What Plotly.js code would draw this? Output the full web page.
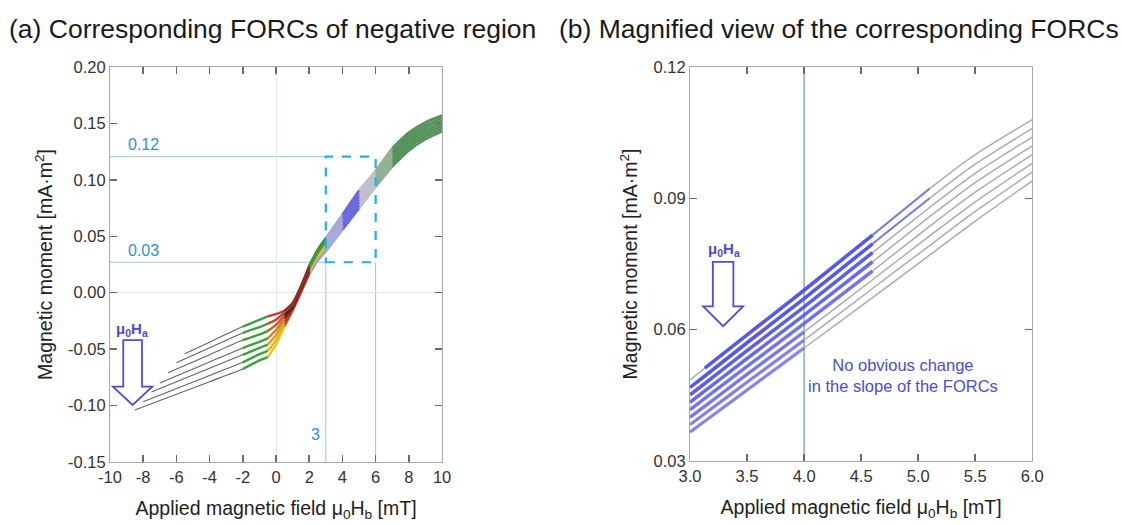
<!DOCTYPE html>
<html>
<head>
<meta charset="utf-8">
<script src="https://cdn.plot.ly/plotly-3.0.1.min.js"></script>
<style>html,body{margin:0;padding:0;background:#fff;}#chart{width:1122px;height:525px;}</style>
</head>
<body>
<div id="chart"></div>
<script>
// ---------- Data: panel (a) ----------
const leftStartX = [-8.5, -8.0, -7.5, -7.0, -6.5, -6.0, -5.5];
const leftGridX = [-4, -2, -1, -0.5, 0, 0.5, 1, 1.5, 2, 2.5, 3, 4, 5, 6, 7, 8, 9, 10];
const forcA1 = [-0.104, -0.0788, -0.0676, -0.060, -0.057, -0.046, -0.030, -0.016, 0.000, 0.016, 0.028, 0.0366, 0.0558, 0.0748, 0.094, 0.112, 0.126, 0.136, 0.143];
const forcA2 = [-0.0966, -0.0733, -0.0617, -0.0545, -0.0515, -0.042, -0.0275, -0.015, 0.001, 0.0173, 0.0297, 0.0386, 0.0580, 0.0774, 0.0963, 0.1147, 0.1287, 0.1385, 0.1453];
const forcA3 = [-0.088, -0.067, -0.055, -0.049, -0.046, -0.0375, -0.025, -0.014, 0.002, 0.0187, 0.0313, 0.0406, 0.0602, 0.080, 0.0987, 0.1173, 0.1313, 0.141, 0.1477];
const forcA4 = [-0.080, -0.0614, -0.049, -0.0435, -0.0405, -0.033, -0.0225, -0.013, 0.003, 0.020, 0.033, 0.0426, 0.0624, 0.0826, 0.101, 0.120, 0.134, 0.1435, 0.150];
const forcA5 = [-0.071, -0.055, -0.042, -0.037, -0.034, -0.0285, -0.020, -0.012, 0.004, 0.0213, 0.0347, 0.0446, 0.0646, 0.0852, 0.1033, 0.1227, 0.1367, 0.146, 0.1523];
const forcA6 = [-0.062, -0.0488, -0.0356, -0.0305, -0.0275, -0.024, -0.0175, -0.0105, 0.005, 0.0227, 0.0363, 0.0466, 0.0668, 0.0878, 0.1057, 0.1253, 0.1393, 0.1485, 0.1547];
const forcA7 = [-0.054, -0.0438, -0.030, -0.024, -0.021, -0.019, -0.016, -0.009, 0.006, 0.024, 0.038, 0.0485, 0.069, 0.0905, 0.108, 0.128, 0.142, 0.151, 0.157];
const leftCurves = [forcA1, forcA2, forcA3, forcA4, forcA5, forcA6, forcA7];

const leftXTicks = [-10, -8, -6, -4, -2, 0, 2, 4, 6, 8, 10];
const leftXTickText = ['-10', '-8', '-6', '-4', '-2', '0', '2', '4', '6', '8', '10'];
const leftYTicks = [-0.15, -0.10, -0.05, 0.00, 0.05, 0.10, 0.15, 0.20];
const leftYTickText = ['-0.15', '-0.10', '-0.05', '0.00', '0.05', '0.10', '0.15', '0.20'];

// ---------- Data: panel (b) ----------
const rightX = [3.0, 3.13, 3.5, 4.0, 4.6, 5.1, 5.5, 6.0];
const forcB1 = [0.0485, 0.0512, 0.0588, 0.0690, 0.0816, 0.0922, 0.1000, 0.1080];
const forcB2 = [0.0468, 0.0494, 0.0570, 0.0671, 0.0796, 0.0900, 0.0978, 0.1060];
const forcB3 = [0.0451, 0.0477, 0.0552, 0.0652, 0.0776, 0.0879, 0.0957, 0.1040];
const forcB4 = [0.0434, 0.0460, 0.0534, 0.0633, 0.0755, 0.0858, 0.0936, 0.1020];
const forcB5 = [0.0417, 0.0443, 0.0516, 0.0614, 0.0734, 0.0836, 0.0914, 0.1000];
const forcB6 = [0.0400, 0.0425, 0.0498, 0.0595, 0.0714, 0.0814, 0.0892, 0.0980];
const forcB7 = [0.0383, 0.0408, 0.0480, 0.0576, 0.0694, 0.0792, 0.0870, 0.0960];
const forcB8 = [0.0366, 0.0391, 0.0462, 0.0558, 0.0673, 0.0770, 0.0848, 0.0940];
const rightCurves = [forcB1, forcB2, forcB3, forcB4, forcB5, forcB6, forcB7, forcB8];

const rightXTicks = [3.0, 3.5, 4.0, 4.5, 5.0, 5.5, 6.0];
const rightXTickText = ['3.0', '3.5', '4.0', '4.5', '5.0', '5.5', '6.0'];
const rightYTicks = [0.03, 0.06, 0.09, 0.12];
const rightYTickText = ['0.03', '0.06', '0.09', '0.12'];

// ---------- Styling ----------
const FONT = 'Liberation Sans, Arial, Helvetica, sans-serif';
const kneeColors = ['#e8c818', '#e3b61e', '#dca022', '#d8802a', '#d05a2c', '#cc4030', '#c83a2e'];
const steepColors = ['#d44a2a', '#c83a28', '#b83024', '#5a2a22', '#3a2420', '#c03428', '#8a2a22'];
const upperColors = ['#a6a6d8', '#9a9ad2', '#c8c040', '#d6c42c', '#6aa040', '#4a9a3e', '#3e923a'];

const traces = [];
leftCurves.forEach((yy, k) => {
  const xx = [leftStartX[k]].concat(leftGridX);
  traces.push({x: xx, y: yy, xaxis: 'x', yaxis: 'y', mode: 'lines', showlegend: false, hoverinfo: 'skip',
    line: {color: '#5a6a5a', width: 1.1, shape: 'spline', smoothing: 0.6}});
});
const segs = [
  {i0: 2, i1: 4, c: k => '#3f9f3f', w: 2.4},
  {i0: 4, i1: 6, c: k => kneeColors[k], w: 2.4},
  {i0: 6, i1: 9, c: k => steepColors[k], w: 2.2},
  {i0: 9, i1: 11, c: k => upperColors[k], w: 2.4},
  {i0: 11, i1: 12, c: k => '#a8a8dc', w: 2.6},
  {i0: 12, i1: 13, c: k => '#6c6ce0', w: 2.6},
  {i0: 13, i1: 14, c: k => '#c0c0ca', w: 2.6},
  {i0: 14, i1: 15, c: k => '#94b094', w: 2.6},
  {i0: 15, i1: 18, c: k => '#55925a', w: 2.6}
];
leftCurves.forEach((yy, k) => {
  const xx = [leftStartX[k]].concat(leftGridX);
  segs.forEach(s => {
    traces.push({x: xx.slice(s.i0, s.i1 + 1), y: yy.slice(s.i0, s.i1 + 1), xaxis: 'x', yaxis: 'y', mode: 'lines',
      showlegend: false, hoverinfo: 'skip', line: {color: s.c(k), width: s.w, shape: 'spline', smoothing: 0.6}});
  });
});

// panel (b)
const blueRanges = [[1, 4, 1.0], [0, 4, 1.0], [0, 4, 0.95], [0, 4, 0.85], [0, 4, 0.75], [0, 3, 0.7], [0, 3, 0.6], [0, 3, 0.55]];
rightCurves.forEach((yy, k) => {
  traces.push({x: rightX, y: yy, xaxis: 'x2', yaxis: 'y2', mode: 'lines', showlegend: false, hoverinfo: 'skip',
    line: {color: '#ababb4', width: 1.5, shape: 'spline', smoothing: 0.5}});
});
rightCurves.forEach((yy, k) => {
  const r = blueRanges[k];
  traces.push({x: rightX.slice(r[0], r[1] + 1), y: yy.slice(r[0], r[1] + 1), xaxis: 'x2', yaxis: 'y2', mode: 'lines',
    showlegend: false, hoverinfo: 'skip', opacity: r[2], line: {color: '#5858e4', width: 3.6, shape: 'spline', smoothing: 0.5}});
  if (k < 2) {
    traces.push({x: rightX.slice(4, 6), y: yy.slice(4, 6), xaxis: 'x2', yaxis: 'y2', mode: 'lines',
      showlegend: false, hoverinfo: 'skip', line: {color: '#7a7ae6', width: 2}});
  }
});

const axisCommon = {
  showline: true, linecolor: '#a8a8a8', linewidth: 1, mirror: 'ticks', ticks: 'inside', ticklen: 7,
  tickcolor: '#6a6a6a', tickwidth: 1.5, showgrid: false, tickfont: {family: FONT, size: 16.5, color: '#333'}
};
const titleFont = {family: FONT, size: 19.5, color: '#222'};

const layout = {
  width: 1122, height: 525, margin: {l: 0, r: 0, t: 0, b: 0},
  paper_bgcolor: '#fff', plot_bgcolor: '#fff', showlegend: false,
  font: {family: FONT},
  xaxis: Object.assign({}, axisCommon, {
    domain: [0.098, 0.394], range: [-10, 10], tickvals: leftXTicks, ticktext: leftXTickText,
    zeroline: true, zerolinecolor: '#dfe7f0', zerolinewidth: 1, anchor: 'y',
    title: {text: 'Applied magnetic field μ<sub>0</sub>H<sub>b</sub> [mT]', font: titleFont, standoff: 16}
  }),
  yaxis: Object.assign({}, axisCommon, {
    domain: [0.12, 0.8724], range: [-0.15, 0.20], tickvals: leftYTicks, ticktext: leftYTickText,
    zeroline: true, zerolinecolor: '#dfe7f0', zerolinewidth: 1, anchor: 'x',
    title: {text: 'Magnetic moment [mA·m<sup>2</sup>]', font: titleFont, standoff: 10}
  }),
  xaxis2: Object.assign({}, axisCommon, {
    domain: [0.615, 0.920], range: [3, 6], tickvals: rightXTicks, ticktext: rightXTickText,
    zeroline: false, anchor: 'y2',
    title: {text: 'Applied magnetic field μ<sub>0</sub>H<sub>b</sub> [mT]', font: titleFont, standoff: 16}
  }),
  yaxis2: Object.assign({}, axisCommon, {
    domain: [0.122, 0.8724], range: [0.03, 0.12], tickvals: rightYTicks, ticktext: rightYTickText,
    zeroline: false, anchor: 'x2',
    title: {text: 'Magnetic moment [mA·m<sup>2</sup>]', font: titleFont, standoff: 10}
  }),
  shapes: [
    {type: 'line', xref: 'x', yref: 'y', x0: -10, x1: 3, y0: 0.1205, y1: 0.1205, line: {color: '#9cc3e6', width: 1}, layer: 'below'},
    {type: 'line', xref: 'x', yref: 'y', x0: -10, x1: 3, y0: 0.027, y1: 0.027, line: {color: '#9cc3e6', width: 1}, layer: 'below'},
    {type: 'line', xref: 'x', yref: 'y', x0: 3, x1: 3, y0: -0.15, y1: 0.027, line: {color: '#9cc3e6', width: 1}, layer: 'below'},
    {type: 'line', xref: 'x', yref: 'y', x0: 6, x1: 6, y0: -0.15, y1: 0.027, line: {color: '#9cc3e6', width: 1}, layer: 'below'},
    {type: 'rect', xref: 'x', yref: 'y', x0: 3, x1: 6, y0: 0.027, y1: 0.1205, line: {color: '#1eb0ef', width: 2.2, dash: 'dash'}},
    {type: 'path', xref: 'x', yref: 'y',
      path: 'M -9.2,-0.042 L -8.07,-0.042 L -8.07,-0.0833 L -7.45,-0.0833 L -8.635,-0.0995 L -9.82,-0.0833 L -9.2,-0.0833 Z',
      line: {color: '#4b4be0', width: 1.8}, fillcolor: 'rgba(255,255,255,0)'},
    {type: 'line', xref: 'x2', yref: 'y2', x0: 4, x1: 4, y0: 0.03, y1: 0.12, line: {color: '#6fa0d0', width: 1.3}, layer: 'below'},
    {type: 'path', xref: 'x2', yref: 'y2',
      path: 'M 3.2,0.0755 L 3.38,0.0755 L 3.38,0.0653 L 3.465,0.0653 L 3.29,0.0608 L 3.115,0.0653 L 3.2,0.0653 Z',
      line: {color: '#4b4be0', width: 1.8}, fillcolor: 'rgba(255,255,255,0)'}
  ],
  annotations: [
    {xref: 'paper', yref: 'paper', x: 7 / 1122, y: 1 - 29 / 525, xanchor: 'left', yanchor: 'middle', showarrow: false,
      text: '(a) Corresponding FORCs of negative region', font: {family: FONT, size: 26.5, color: '#1a1a1a'}},
    {xref: 'paper', yref: 'paper', x: 557 / 1122, y: 1 - 29 / 525, xanchor: 'left', yanchor: 'middle', showarrow: false,
      text: '(b) Magnified view of the corresponding FORCs', font: {family: FONT, size: 26.5, color: '#1a1a1a'}},
    {xref: 'x', yref: 'y', x: -8.0, y: 0.131, showarrow: false, text: '0.12', font: {family: FONT, size: 16, color: '#2f8fd8'}},
    {xref: 'x', yref: 'y', x: -8.0, y: 0.0378, showarrow: false, text: '0.03', font: {family: FONT, size: 16, color: '#2f8fd8'}},
    {xref: 'x', yref: 'y', x: 2.4, y: -0.126, showarrow: false, text: '3', font: {family: FONT, size: 16, color: '#2f8fd8'}},
    {xref: 'x', yref: 'y', x: -8.7, y: -0.033, showarrow: false, text: '<b>μ<sub>0</sub>H<sub>a</sub></b>', font: {family: FONT, size: 15, color: '#4b4be0'}},
    {xref: 'x2', yref: 'y2', x: 3.3, y: 0.0782, showarrow: false, text: '<b>μ<sub>0</sub>H<sub>a</sub></b>', font: {family: FONT, size: 15, color: '#4b4be0'}},
    {xref: 'x2', yref: 'y2', x: 4.87, y: 0.0496, showarrow: false, align: 'center',
      text: 'No obvious change<br>in the slope of the FORCs', font: {family: FONT, size: 16.5, color: '#4b4be0'}}
  ]
};

Plotly.newPlot('chart', traces, layout, {displayModeBar: false, staticPlot: true});
</script>
</body>
</html>
